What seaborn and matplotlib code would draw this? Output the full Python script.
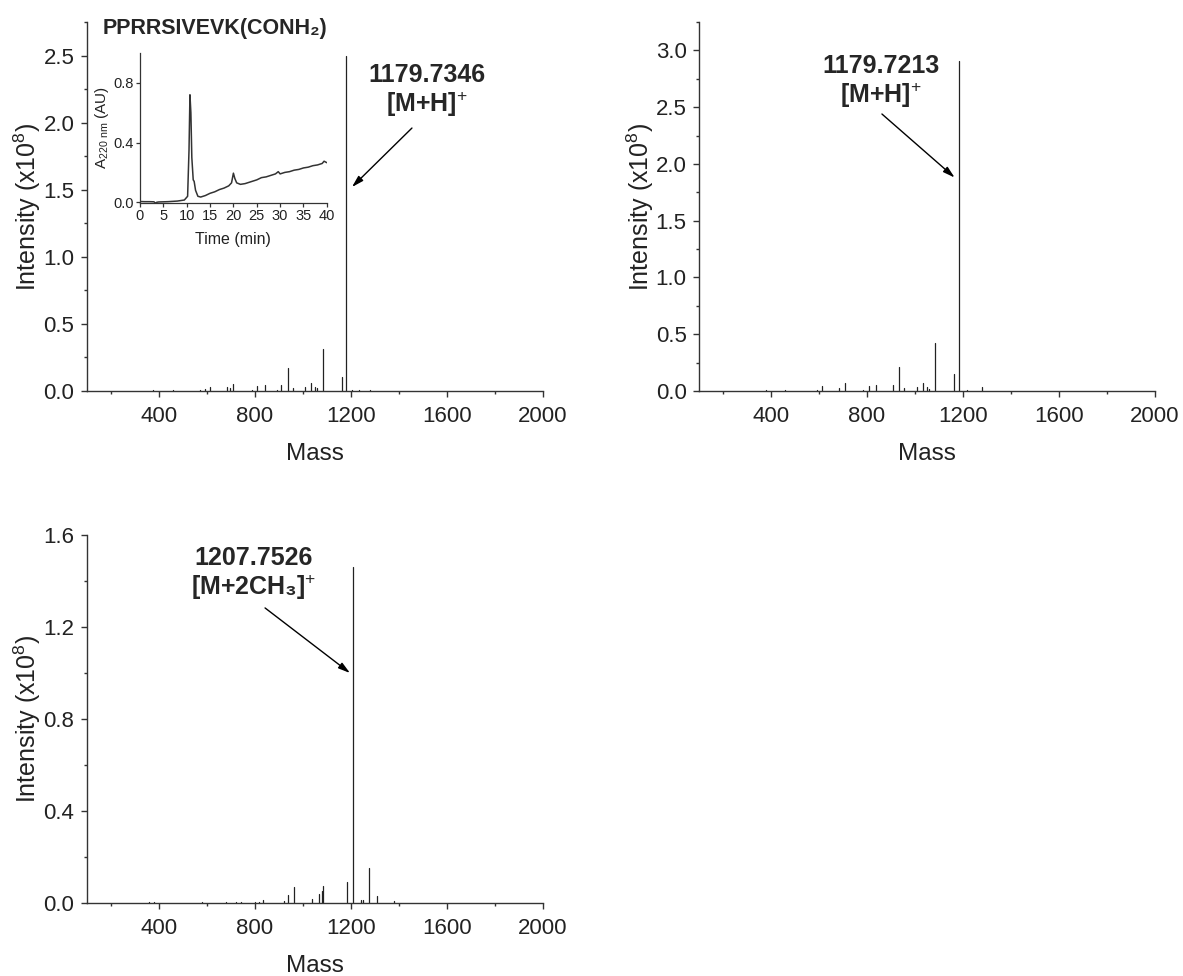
import matplotlib
matplotlib.use('Agg')
import matplotlib.pyplot as plt
from matplotlib.ticker import MultipleLocator, FormatStrFormatter
import numpy as np
import pandas as pd
import seaborn as sns

# MS peaks, panel 1 (mass, intensity x1e8)
mass_a = [245, 376, 460, 571, 592, 612, 682, 696, 710, 786, 807, 840, 890, 908, 937, 957,
          1010, 1035, 1051, 1060, 1085, 1163, 1179, 1203, 1235, 1279]
int_a = [0.003, 0.006, 0.004, 0.008, 0.012, 0.03, 0.027, 0.02, 0.052, 0.008, 0.035, 0.042,
         0.008, 0.047, 0.169, 0.025, 0.027, 0.057, 0.03, 0.02, 0.31, 0.104, 2.5, 0.008, 0.01, 0.005]

# panel 2
mass_b = [245, 380, 460, 590, 612, 682, 707, 782, 807, 837, 907, 935, 954, 1007, 1033, 1051,
          1060, 1083, 1163, 1181, 1215, 1278]
int_b = [0.004, 0.008, 0.005, 0.008, 0.041, 0.03, 0.068, 0.01, 0.041, 0.053, 0.053, 0.21,
         0.026, 0.032, 0.068, 0.032, 0.02, 0.42, 0.153, 2.91, 0.006, 0.032]

# panel 3
mass_c = [360, 380, 580, 680, 720, 740, 800, 817, 834, 921, 936, 964, 1036, 1065, 1078, 1085,
          1182, 1207, 1242, 1251, 1276, 1307, 1380]
int_c = [0.004, 0.004, 0.004, 0.004, 0.004, 0.004, 0.005, 0.005, 0.012, 0.008, 0.033, 0.07,
         0.016, 0.04, 0.05, 0.072, 0.09, 1.46, 0.012, 0.015, 0.152, 0.029, 0.008]

# HPLC trace (inset)
time_min = [0, 1, 2, 3, 3.3, 3.6, 4, 6, 8, 9.5, 10.2, 10.5, 10.7, 10.9, 11.1, 11.4, 11.6, 11.9,
            12.4, 13, 14, 15, 16, 17, 18, 19, 19.6, 20, 20.3, 20.7, 21.5, 22.5, 24, 25, 26, 27,
            28, 29, 29.6, 30, 31, 32, 33, 34, 35, 36, 37, 38, 39, 39.4, 40]
absorb = [0.005, 0.004, 0.004, 0.003, -0.006, 0.0, 0.002, 0.004, 0.008, 0.015, 0.04, 0.35, 0.72,
          0.6, 0.3, 0.15, 0.14, 0.08, 0.04, 0.035, 0.045, 0.06, 0.07, 0.085, 0.095, 0.11, 0.13,
          0.195, 0.16, 0.13, 0.12, 0.125, 0.14, 0.15, 0.165, 0.17, 0.18, 0.19, 0.205, 0.19, 0.2,
          0.205, 0.215, 0.22, 0.23, 0.235, 0.245, 0.25, 0.26, 0.275, 0.265]

sns.set_style('ticks')
plt.rcParams['font.family'] = ['Liberation Sans', 'DejaVu Sans']
plt.rcParams['mathtext.fontset'] = 'custom'
plt.rcParams['mathtext.rm'] = 'Liberation Sans'
plt.rcParams['mathtext.it'] = 'Liberation Sans'
plt.rcParams['mathtext.bf'] = 'Liberation Sans:bold'

DARK = '#222222'


def stick_frame(masses, heights):
    rows = []
    for i, (m, h) in enumerate(zip(masses, heights)):
        rows.append({'peak': i, 'mass': m, 'intensity': 0.0})
        rows.append({'peak': i, 'mass': m, 'intensity': h})
    return pd.DataFrame(rows)


def spectrum(ax, masses, heights, ymax, ymajor, yminor):
    df = stick_frame(masses, heights)
    sns.lineplot(data=df, x='mass', y='intensity', units='peak', estimator=None,
                 color=DARK, lw=0.9, legend=False, ax=ax)
    ax.set_xlim(100, 2000)
    ax.set_ylim(0, ymax)
    ax.xaxis.set_major_locator(MultipleLocator(400))
    ax.xaxis.set_minor_locator(MultipleLocator(200))
    ax.yaxis.set_major_locator(MultipleLocator(ymajor))
    ax.yaxis.set_minor_locator(MultipleLocator(yminor))
    ax.yaxis.set_major_formatter(FormatStrFormatter('%.1f'))
    sns.despine(ax=ax)
    for s in ['left', 'bottom']:
        ax.spines[s].set_color('#333333')
        ax.spines[s].set_linewidth(1.0)
    ax.tick_params(which='major', length=4, width=1, labelsize=16, colors='#333333', labelcolor=DARK)
    ax.tick_params(which='minor', length=2, width=1, colors='#333333')
    ax.tick_params(axis='x', which='major', pad=7)
    ax.tick_params(axis='y', which='major', pad=5)
    ax.set_xlabel('Mass', fontsize=17.5, labelpad=11, color=DARK)
    ax.set_ylabel(r'Intensity (x10$^8$)', fontsize=18, labelpad=0, color=DARK)


fig = plt.figure(figsize=(11.83, 9.76), dpi=100)
ax1 = fig.add_axes([0.0735, 0.5994, 0.3855, 0.378])
ax2 = fig.add_axes([0.5909, 0.5994, 0.3855, 0.378])
ax3 = fig.add_axes([0.0735, 0.0748, 0.3855, 0.377])

spectrum(ax1, mass_a, int_a, 2.75, 0.5, 0.25)
spectrum(ax2, mass_b, int_b, 3.25, 0.5, 0.25)
spectrum(ax3, mass_c, int_c, 1.6, 0.4, 0.2)

arrow = dict(arrowstyle='-|>,head_length=0.7,head_width=0.2', color='k', lw=1.0,
             shrinkA=0, shrinkB=0)

ax1.text(165, 2.70, 'PPRRSIVEVK(CONH₂)', fontsize=15.5, fontweight='bold', ha='left', va='center')
ax1.text(1517, 2.235, '1179.7346\n[M+H]$^{+}$', fontsize=18, fontweight='bold', ha='center',
         va='center', linespacing=1.1)
ax1.annotate('', xy=(1204, 1.52), xytext=(1454, 1.96), arrowprops=arrow)

ax2.text(858, 2.72, '1179.7213\n[M+H]$^{+}$', fontsize=18, fontweight='bold', ha='center',
         va='center', linespacing=1.1)
ax2.annotate('', xy=(1165, 1.88), xytext=(862, 2.44), arrowprops=arrow)

ax3.text(796, 1.43, '1207.7526\n[M+2CH₃]$^{+}$', fontsize=18, fontweight='bold', ha='center',
         va='center', linespacing=1.1)
ax3.annotate('', xy=(1196, 1.0), xytext=(842, 1.283), arrowprops=arrow)

# inset HPLC
axi = fig.add_axes([0.1183, 0.792, 0.158, 0.1537])
trace = pd.DataFrame({'time': time_min, 'A220': absorb})
sns.lineplot(data=trace, x='time', y='A220', color='#333333', lw=1.1, ax=axi)
axi.set_xlim(0, 40)
axi.set_ylim(-0.005, 1.0)
axi.xaxis.set_major_locator(MultipleLocator(5))
axi.yaxis.set_major_locator(MultipleLocator(0.4))
axi.yaxis.set_major_formatter(FormatStrFormatter('%.1f'))
sns.despine(ax=axi)
for s in ['left', 'bottom']:
    axi.spines[s].set_color('#333333')
    axi.spines[s].set_linewidth(0.9)
axi.tick_params(length=3, width=0.9, labelsize=10.5, pad=1.5, colors='#333333', labelcolor=DARK)
axi.set_xlabel('Time (min)', fontsize=11.5, labelpad=6, color=DARK)
axi.set_ylabel(r'A$_{220\ \mathrm{nm}}$ (AU)', fontsize=11, labelpad=1.5, color=DARK)
axi.patch.set_alpha(0)

fig.savefig('out.png', dpi=100)
